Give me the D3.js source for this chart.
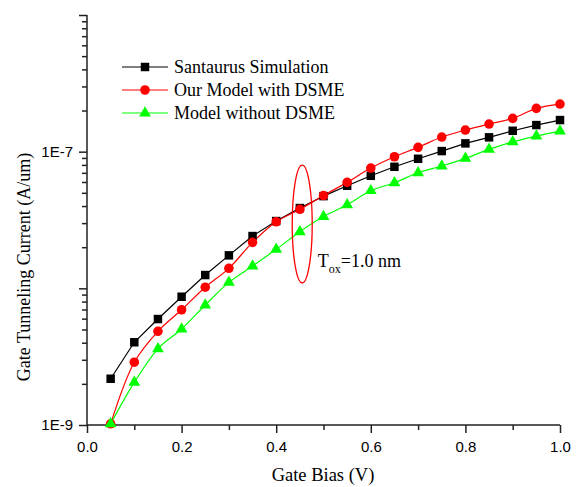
<!DOCTYPE html>
<html><head><meta charset="utf-8">
<script src="https://cdn.jsdelivr.net/npm/d3@7"></script>
<style>body{margin:0;background:#fff}svg{display:block}</style>
</head><body>
<svg id="chart" width="578" height="487"></svg>
<script>
const bias = [0.05,0.10,0.15,0.20,0.25,0.30,0.35,0.40,0.45,0.50,0.55,0.60,0.65,0.70,0.75,0.80,0.85,0.90,0.95,1.00];
const santaurus = [2.18e-9,4.03e-9,5.96e-9,8.68e-9,1.251e-8,1.743e-8,2.413e-8,3.107e-8,3.868e-8,4.73e-8,5.63e-8,6.66e-8,7.75e-8,8.87e-8,1.01e-7,1.15e-7,1.273e-7,1.422e-7,1.565e-7,1.703e-7];
const withDSME = [1.02e-9,2.88e-9,4.85e-9,6.97e-9,1.019e-8,1.401e-8,2.17e-8,3.07e-8,3.785e-8,4.775e-8,5.96e-8,7.59e-8,9.18e-8,1.075e-7,1.279e-7,1.439e-7,1.592e-7,1.752e-7,2.074e-7,2.23e-7];
const withoutDSME = [1.02e-9,2.05e-9,3.61e-9,5.04e-9,7.55e-9,1.106e-8,1.456e-8,1.929e-8,2.594e-8,3.35e-8,4.09e-8,5.18e-8,5.92e-8,7.01e-8,7.85e-8,8.93e-8,1.039e-7,1.181e-7,1.301e-7,1.415e-7];
const seriesNames = ["Santaurus Simulation","Our Model with DSME","Model without DSME"];
const xMajorTicks = [0,0.2,0.4,0.6,0.8,1.0];
const xMinorTicks = [0.1,0.3,0.5,0.7,0.9];
const yMajorTicks = [1e-9,1e-8,1e-7,1e-6];
const yLabelMap = {"1e-9":"1E-9","1e-7":"1E-7"};

const svg = d3.select("#chart");
const x = d3.scaleLinear().domain([0,1]).range([87,560]);
const y = d3.scaleLog().domain([1e-9,1e-6]).range([425,15]);

const serif = "'Liberation Serif','Times New Roman',serif";
const sans = "'Liberation Sans',Arial,sans-serif";

// minor y ticks
const yMinor = [];
for (let d=1e-9; d<1e-6*0.999; d*=10) for (let k=2;k<=9;k++) yMinor.push(d*k);

function styleAxis(g){
  g.selectAll("path").remove();
  g.selectAll("line").attr("stroke","#222").attr("stroke-width",1.5);
  g.selectAll("text").attr("font-family",sans).attr("font-size",15).attr("fill","#000");
}

svg.append("g").attr("transform","translate(87,0)")
  .call(d3.axisLeft(y).tickValues(yMinor).tickSize(5).tickFormat(""))
  .call(styleAxis);
svg.append("g").attr("transform","translate(87,0)")
  .call(d3.axisLeft(y).tickValues(yMajorTicks).tickSize(8).tickPadding(6)
    .tickFormat(d=>yLabelMap[d.toExponential()] || ""))
  .call(styleAxis);
svg.append("g").attr("transform","translate(0,425)")
  .call(d3.axisBottom(x).tickValues(xMinorTicks).tickSize(5).tickFormat(""))
  .call(styleAxis);
svg.append("g").attr("transform","translate(0,425)")
  .call(d3.axisBottom(x).tickValues(xMajorTicks).tickSize(8).tickPadding(8).tickFormat(d3.format(".1f")))
  .call(styleAxis);

// axis lines
svg.append("line").attr("x1",x(0)).attr("x2",x(0)).attr("y1",y(1e-6)).attr("y2",y(1e-9)).attr("stroke","#222").attr("stroke-width",1.5);
svg.append("line").attr("x1",x(0)).attr("x2",x(1)).attr("y1",y(1e-9)).attr("y2",y(1e-9)).attr("stroke","#222").attr("stroke-width",1.5);

// titles
svg.append("text").attr("x",323).attr("y",481).attr("text-anchor","middle")
  .attr("font-family",serif).attr("font-size",18.5).text("Gate Bias (V)");
svg.append("text").attr("transform","translate(30,267) rotate(-90)").attr("text-anchor","middle")
  .attr("font-family",serif).attr("font-size",18).text("Gate Tunneling Current (A/um)");

const series = [
  {name:seriesNames[0], vals:santaurus, color:"#000000", shape:d3.symbolSquare, size:72, curve:d3.curveLinear},
  {name:seriesNames[1], vals:withDSME, color:"#ff0000", shape:d3.symbolCircle, size:72, curve:d3.curveCatmullRom},
  {name:seriesNames[2], vals:withoutDSME, color:"#00ff00", shape:d3.symbolTriangle, size:60, curve:d3.curveCatmullRom}
];

series.forEach(s=>{
  const pts = bias.map((b,i)=>[b,s.vals[i]]);
  svg.append("path").datum(pts)
    .attr("d", d3.line().x(d=>x(d[0])).y(d=>y(d[1])).curve(s.curve))
    .attr("fill","none").attr("stroke",s.color).attr("stroke-width",1.2);
});
series.forEach(s=>{
  svg.append("g").selectAll("path").data(bias.map((b,i)=>[b,s.vals[i]])).join("path")
    .attr("transform",d=>`translate(${x(d[0])},${y(d[1])})`)
    .attr("d", d3.symbol().type(s.shape).size(s.size))
    .attr("fill",s.color);
});

// legend
const lg = svg.append("g");
series.forEach((s,i)=>{
  const ly = 67 + i*23;
  lg.append("line").attr("x1",122).attr("x2",168).attr("y1",ly).attr("y2",ly).attr("stroke",s.color).attr("stroke-width",1.2);
  lg.append("path").attr("transform",`translate(145,${ly})`).attr("d",d3.symbol().type(s.shape).size(s.size)).attr("fill",s.color);
  lg.append("text").attr("x",174).attr("y",ly+6).attr("font-family",serif).attr("font-size",18).text(s.name);
});

// annotation ellipse and label
const ellCx = x(0.455), ellTop = y(7.98e-8), ellBot = y(1.094e-8);
svg.append("ellipse").attr("cx",ellCx).attr("cy",(ellTop+ellBot)/2)
  .attr("rx",10).attr("ry",(ellBot-ellTop)/2)
  .attr("fill","none").attr("stroke","#ff0000").attr("stroke-width",1.3);
const ann = svg.append("text").attr("x",x(0.488)).attr("y",y(1.432e-8))
  .attr("font-family",serif).attr("font-size",18);
ann.append("tspan").text("T");
ann.append("tspan").attr("font-size",12).attr("dy",6).text("ox");
ann.append("tspan").attr("dy",-6).text("=1.0 nm");
</script>
</body></html>
